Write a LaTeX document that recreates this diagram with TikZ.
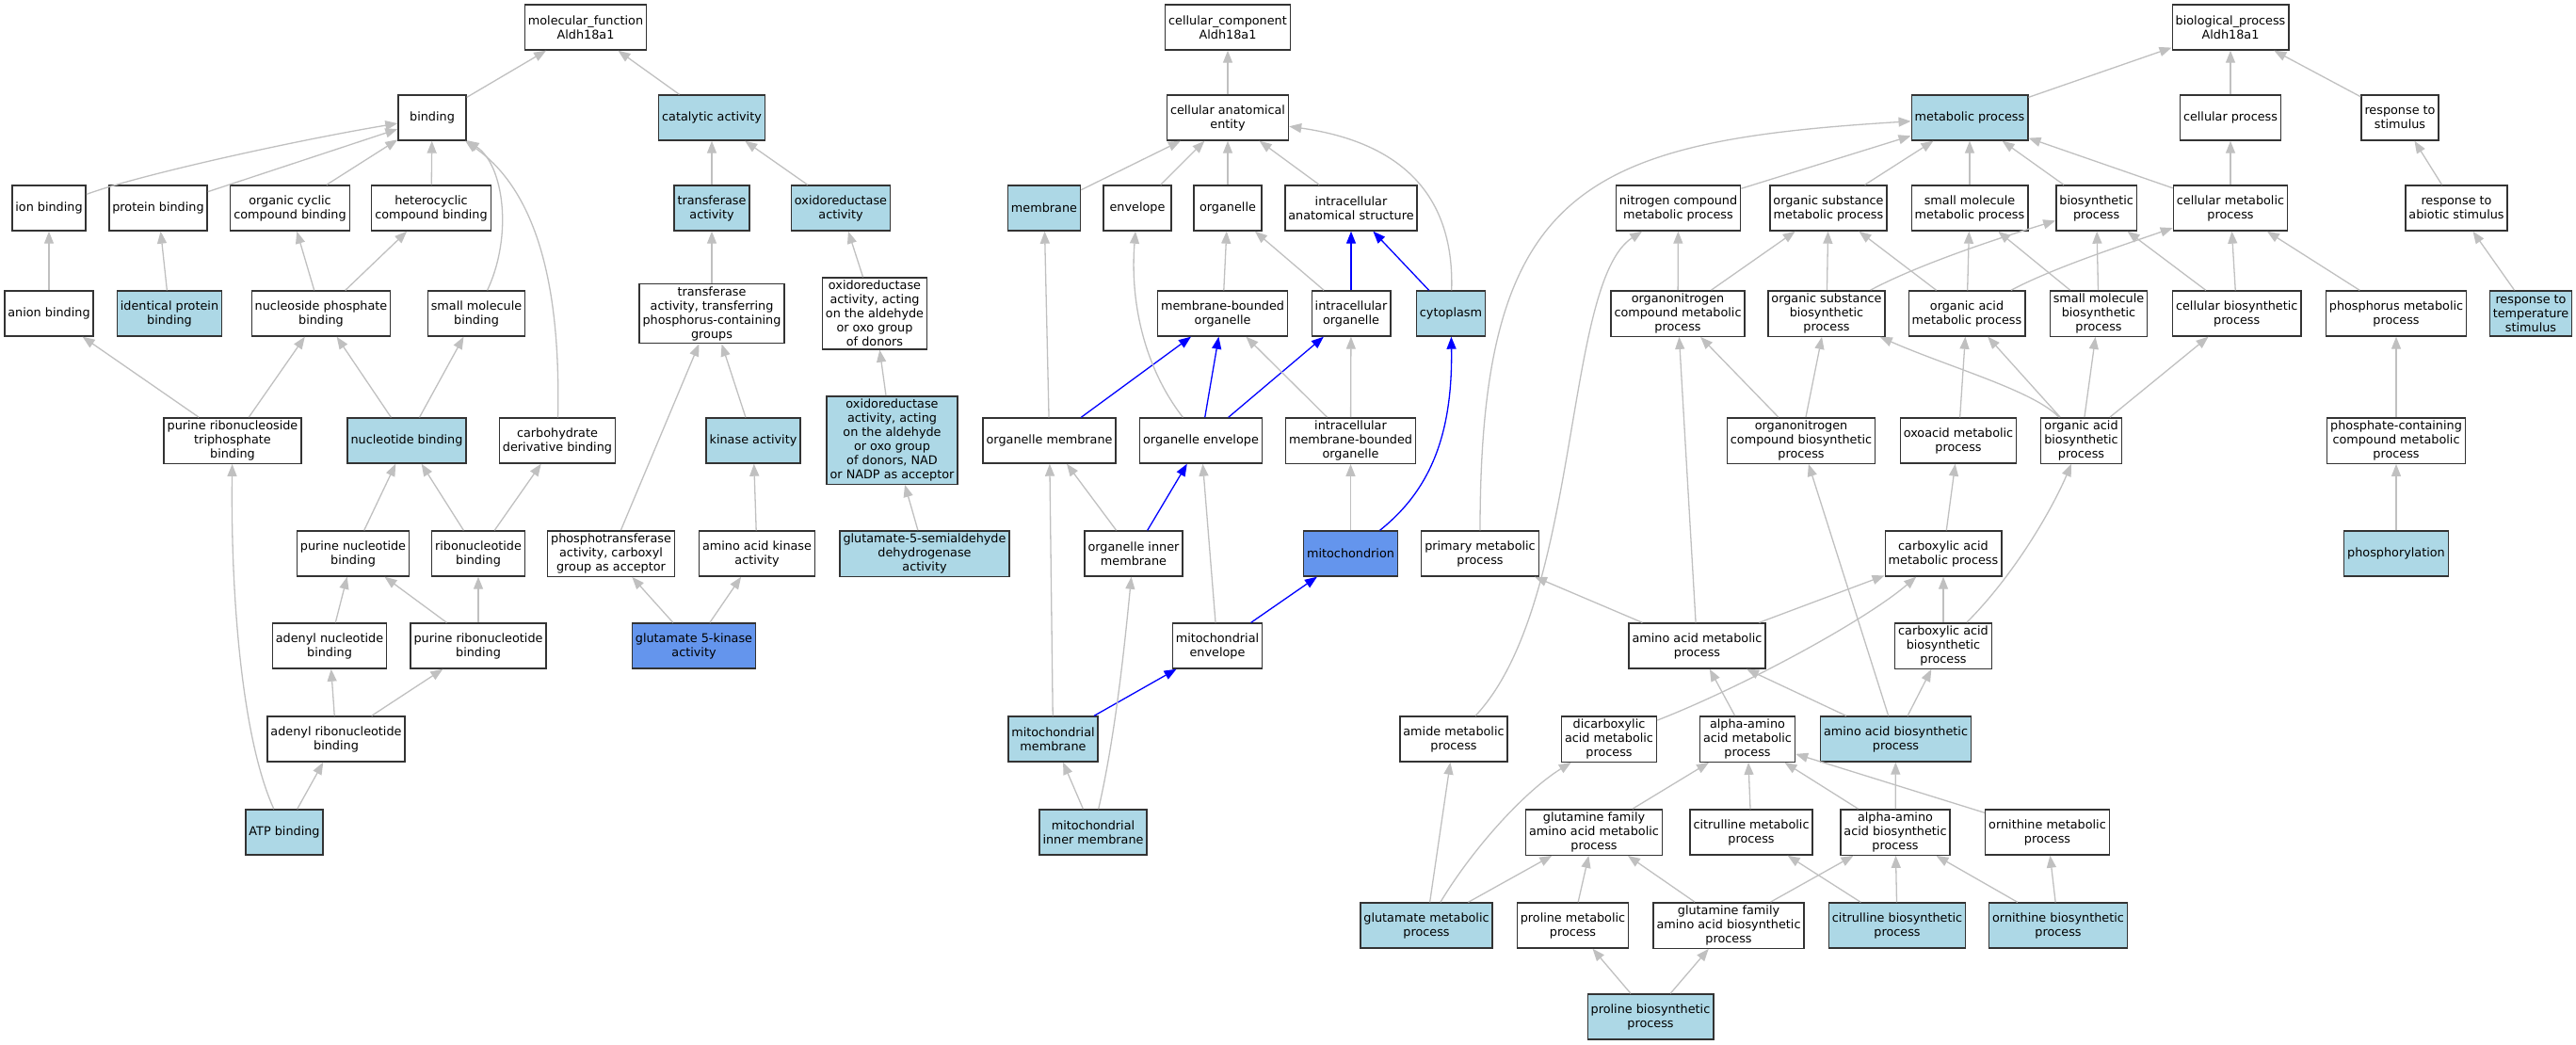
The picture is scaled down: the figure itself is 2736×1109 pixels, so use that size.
\documentclass[tikz,border=0pt]{standalone}
\usepackage{fontspec}
\setmainfont{DejaVu Sans}
\usepackage{tikz}
\usetikzlibrary{arrows.meta}
\definecolor{lightblue}{HTML}{ADD8E6}
\definecolor{cornflower}{HTML}{6495ED}
\definecolor{edgegray}{HTML}{C0C0C0}

\begin{document}
\begin{tikzpicture}[x=1pt, y=-1pt,
        go/.style={draw=black!80, line width=1.4pt, fill=white, align=center,
            font=\fontsize{12.8}{15}\selectfont, inner xsep=3.5pt, inner ysep=3pt,
            minimum width=72pt, minimum height=48pt},
        hit/.style={go, fill=lightblue},
        gene/.style={go, fill=cornflower},
        isa/.style={draw=edgegray, line width=1.3pt, -{Triangle[length=13pt,width=10pt]}},
        partof/.style={draw=blue, line width=1.3pt, -{Triangle[length=13pt,width=10pt]}}]
        \useasboundingbox (0,0) rectangle (2736,1109);

        \node[go] (mf) at (622,29) {molecular\_function\\Aldh18a1};
        \node[go] (bind) at (459,125) {binding};
        \node[hit] (catal) at (756,125) {catalytic activity};
        \node[go] (ionb) at (52,221) {ion binding};
        \node[go] (protb) at (168,221) {protein binding};
        \node[go] (orgcyc) at (308,221) {organic cyclic\\compound binding};
        \node[go] (hetcyc) at (458,221) {heterocyclic\\compound binding};
        \node[hit] (transf) at (756,221) {transferase\\activity};
        \node[hit] (oxred) at (893,221) {oxidoreductase\\activity};
        \node[go] (anionb) at (52,333) {anion binding};
        \node[hit] (identb) at (180,333) {identical protein\\binding};
        \node[go] (nucphos) at (341,333) {nucleoside phosphate\\binding};
        \node[go] (smallmolb) at (506,333) {small molecule\\binding};
        \node[go] (transphos) at (756,333) {transferase\\activity, transferring\\phosphorus-containing\\groups};
        \node[go] (oxald) at (929,333) {oxidoreductase\\activity, acting\\on the aldehyde\\or oxo group\\of donors};
        \node[go] (purtri) at (247,468) {purine ribonucleoside\\triphosphate\\binding};
        \node[hit] (nucb) at (432,468) {nucleotide binding};
        \node[go] (carbder) at (592,468) {carbohydrate\\derivative binding};
        \node[hit] (kinase) at (800,468) {kinase activity};
        \node[hit] (oxnad) at (947.5,467.5) {oxidoreductase\\activity, acting\\on the aldehyde\\or oxo group\\of donors, NAD\\or NADP as acceptor};
        \node[go] (purnuc) at (375,588) {purine nucleotide\\binding};
        \node[go] (ribonuc) at (508,588) {ribonucleotide\\binding};
        \node[go] (phoscarb) at (649,588) {phosphotransferase\\activity, carboxyl\\group as acceptor};
        \node[go] (aakin) at (804,588) {amino acid kinase\\activity};
        \node[hit] (g5sd) at (982,588) {glutamate-5-semialdehyde\\dehydrogenase\\activity};
        \node[go] (adenuc) at (350,686) {adenyl nucleotide\\binding};
        \node[go] (purribo) at (508,686) {purine ribonucleotide\\binding};
        \node[gene] (g5k) at (737,686) {glutamate 5-kinase\\activity};
        \node[go] (adenribo) at (357,785) {adenyl ribonucleotide\\binding};
        \node[hit] (atpb) at (302,884) {ATP binding};

        \node[go] (cc) at (1304,29) {cellular\_component\\Aldh18a1};
        \node[go] (cae) at (1304,125) {cellular anatomical\\entity};
        \node[hit] (membr) at (1109,221) {membrane};
        \node[go] (envel) at (1208,221) {envelope};
        \node[go] (organ) at (1304,221) {organelle};
        \node[go] (intras) at (1435,221) {intracellular\\anatomical structure};
        \node[go] (mbo) at (1298.6,333) {membrane-bounded\\organelle};
        \node[go] (intorg) at (1435,333) {intracellular\\organelle};
        \node[hit] (cyto) at (1541,333) {cytoplasm};
        \node[go] (orgmem) at (1114.6,468) {organelle membrane};
        \node[go] (orgenv) at (1275.5,468) {organelle envelope};
        \node[go] (imbo) at (1434.5,468) {intracellular\\membrane-bounded\\organelle};
        \node[go] (orginner) at (1204,588) {organelle inner\\membrane};
        \node[gene] (mito) at (1434.5,588) {mitochondrion};
        \node[go] (mitoenv) at (1293,686) {mitochondrial\\envelope};
        \node[hit] (mitomem) at (1118.5,785) {mitochondrial\\membrane};
        \node[hit] (mitoinner) at (1161,884) {mitochondrial\\inner membrane};

        \node[go] (bp) at (2369,29) {biological\_process\\Aldh18a1};
        \node[hit] (metab) at (2092,125) {metabolic process};
        \node[go] (cellp) at (2369,125) {cellular process};
        \node[go] (respst) at (2549,125) {response to\\stimulus};
        \node[go] (nitro) at (1782.5,221) {nitrogen compound\\metabolic process};
        \node[go] (orgsub) at (1942,221) {organic substance\\metabolic process};
        \node[go] (smallmp) at (2092,221) {small molecule\\metabolic process};
        \node[go] (biosyn) at (2226.6,221) {biosynthetic\\process};
        \node[go] (cellmet) at (2369,221) {cellular metabolic\\process};
        \node[go] (respab) at (2609,221) {response to\\abiotic stimulus};
        \node[go] (orgnitro) at (1782,333) {organonitrogen\\compound metabolic\\process};
        \node[go] (orgsubbio) at (1940,333) {organic substance\\biosynthetic\\process};
        \node[go] (orgacid) at (2089,333) {organic acid\\metabolic process};
        \node[go] (smallbio) at (2229,333) {small molecule\\biosynthetic\\process};
        \node[go] (cellbio) at (2375.7,333) {cellular biosynthetic\\process};
        \node[go] (phosmet) at (2545,333) {phosphorus metabolic\\process};
        \node[hit] (resptemp) at (2688,333) {response to\\temperature\\stimulus};
        \node[go] (orgnitrobio) at (1913,468) {organonitrogen\\compound biosynthetic\\process};
        \node[go] (oxoacid) at (2080,468) {oxoacid metabolic\\process};
        \node[go] (orgacidbio) at (2210.5,468) {organic acid\\biosynthetic\\process};
        \node[go] (phoscont) at (2545,468) {phosphate-containing\\compound metabolic\\process};
        \node[go] (primary) at (1572,588) {primary metabolic\\process};
        \node[go] (carbox) at (2064,588) {carboxylic acid\\metabolic process};
        \node[hit] (phosph) at (2545,588) {phosphorylation};
        \node[go] (aamet) at (1802.5,686) {amino acid metabolic\\process};
        \node[go] (carboxbio) at (2064,686) {carboxylic acid\\biosynthetic\\process};
        \node[go] (amide) at (1544,785) {amide metabolic\\process};
        \node[go] (dicarb) at (1709,785) {dicarboxylic\\acid metabolic\\process};
        \node[go] (alphamet) at (1856,785) {alpha-amino\\acid metabolic\\process};
        \node[hit] (aabio) at (2013.5,785) {amino acid biosynthetic\\process};
        \node[go] (glnmet) at (1693,884) {glutamine family\\amino acid metabolic\\process};
        \node[go] (citmet) at (1860,884) {citrulline metabolic\\process};
        \node[go] (alphabio) at (2013,884) {alpha-amino\\acid biosynthetic\\process};
        \node[go] (ornmet) at (2174.5,884) {ornithine metabolic\\process};
        \node[hit] (glumet) at (1515,983) {glutamate metabolic\\process};
        \node[go] (promet) at (1670.5,983) {proline metabolic\\process};
        \node[go] (glnbio) at (1836,983) {glutamine family\\amino acid biosynthetic\\process};
        \node[hit] (citbio) at (2015,983) {citrulline biosynthetic\\process};
        \node[hit] (ornbio) at (2186,983) {ornithine biosynthetic\\process};
        \node[hit] (probio) at (1753,1080) {proline biosynthetic\\process};

        \draw[isa] (bind) -- (mf);
        \draw[isa] (catal) -- (mf);
        \draw[isa] (ionb) .. controls (150,185) and (320,148) .. (bind);
        \draw[isa] (protb) -- (bind);
        \draw[isa] (orgcyc) -- (bind);
        \draw[isa] (hetcyc) -- (bind);
        \draw[isa] (smallmolb) .. controls (545,250) and (535,175) .. (bind);
        \draw[isa] (carbder) .. controls (595,330) and (580,210) .. (bind);
        \draw[isa] (anionb) -- (ionb);
        \draw[isa] (identb) -- (protb);
        \draw[isa] (nucphos) -- (orgcyc);
        \draw[isa] (nucphos) -- (hetcyc);
        \draw[isa] (purtri) -- (anionb);
        \draw[isa] (purtri) -- (nucphos);
        \draw[isa] (nucb) -- (nucphos);
        \draw[isa] (nucb) -- (smallmolb);
        \draw[isa] (purnuc) -- (nucb);
        \draw[isa] (ribonuc) -- (nucb);
        \draw[isa] (ribonuc) -- (carbder);
        \draw[isa] (adenuc) -- (purnuc);
        \draw[isa] (purribo) -- (purnuc);
        \draw[isa] (purribo) -- (ribonuc);
        \draw[isa] (adenribo) -- (adenuc);
        \draw[isa] (adenribo) -- (purribo);
        \draw[isa] (atpb) .. controls (255,780) and (245,620) .. (purtri);
        \draw[isa] (atpb) -- (adenribo);
        \draw[isa] (transf) -- (catal);
        \draw[isa] (oxred) -- (catal);
        \draw[isa] (transphos) -- (transf);
        \draw[isa] (oxald) -- (oxred);
        \draw[isa] (oxnad) -- (oxald);
        \draw[isa] (kinase) -- (transphos);
        \draw[isa] (phoscarb) -- (transphos);
        \draw[isa] (g5sd) -- (oxnad);
        \draw[isa] (aakin) -- (kinase);
        \draw[isa] (g5k) -- (phoscarb);
        \draw[isa] (g5k) -- (aakin);

        \draw[isa] (cae) -- (cc);
        \draw[isa] (membr) -- (cae);
        \draw[isa] (envel) -- (cae);
        \draw[isa] (organ) -- (cae);
        \draw[isa] (intras) -- (cae);
        \draw[isa] (cyto) .. controls (1545,200) and (1480,150) .. (cae);
        \draw[isa] (mbo) -- (organ);
        \draw[isa] (intorg) -- (organ);
        \draw[partof] (intorg) -- (intras);
        \draw[partof] (cyto) -- (intras);
        \draw[isa] (orgmem) -- (membr);
        \draw[partof] (orgmem) -- (mbo);
        \draw[isa] (orgenv) .. controls (1215,390) and (1200,320) .. (envel);
        \draw[partof] (orgenv) -- (mbo);
        \draw[partof] (orgenv) -- (intorg);
        \draw[isa] (imbo) -- (mbo);
        \draw[isa] (imbo) -- (intorg);
        \draw[isa] (orginner) -- (orgmem);
        \draw[partof] (orginner) -- (orgenv);
        \draw[isa] (mito) -- (imbo);
        \draw[partof] (mito) .. controls (1520,520) and (1543,460) .. (cyto);
        \draw[isa] (mitoenv) -- (orgenv);
        \draw[partof] (mitoenv) -- (mito);
        \draw[isa] (mitomem) -- (orgmem);
        \draw[partof] (mitomem) -- (mitoenv);
        \draw[isa] (mitoinner) -- (mitomem);
        \draw[isa] (mitoinner) .. controls (1185,780) and (1195,680) .. (orginner);

        \draw[isa] (metab) -- (bp);
        \draw[isa] (cellp) -- (bp);
        \draw[isa] (respst) -- (bp);
        \draw[isa] (nitro) -- (metab);
        \draw[isa] (orgsub) -- (metab);
        \draw[isa] (smallmp) -- (metab);
        \draw[isa] (biosyn) -- (metab);
        \draw[isa] (cellmet) -- (metab);
        \draw[isa] (cellmet) -- (cellp);
        \draw[isa] (primary) .. controls (1572,200) and (1680,150) .. (metab);
        \draw[isa] (respab) -- (respst);
        \draw[isa] (resptemp) -- (respab);
        \draw[isa] (orgnitro) -- (nitro);
        \draw[isa] (orgnitro) -- (orgsub);
        \draw[isa] (orgsubbio) -- (orgsub);
        \draw[isa] (orgsubbio) .. controls (2030,285) and (2100,260) .. (biosyn);
        \draw[isa] (orgacid) -- (orgsub);
        \draw[isa] (orgacid) -- (smallmp);
        \draw[isa] (orgacid) .. controls (2180,285) and (2250,262) .. (cellmet);
        \draw[isa] (smallbio) -- (smallmp);
        \draw[isa] (smallbio) -- (biosyn);
        \draw[isa] (cellbio) -- (biosyn);
        \draw[isa] (cellbio) -- (cellmet);
        \draw[isa] (phosmet) -- (cellmet);
        \draw[isa] (phoscont) -- (phosmet);
        \draw[isa] (phosph) -- (phoscont);
        \draw[isa] (orgnitrobio) -- (orgnitro);
        \draw[isa] (orgnitrobio) -- (orgsubbio);
        \draw[isa] (oxoacid) -- (orgacid);
        \draw[isa] (orgacidbio) -- (smallbio);
        \draw[isa] (orgacidbio) -- (cellbio);
        \draw[isa] (orgacidbio) -- (orgacid);
        \draw[isa] (orgacidbio) .. controls (2160,415) and (2070,390) .. (orgsubbio);
        \draw[isa] (carbox) -- (oxoacid);
        \draw[isa] (carboxbio) -- (carbox);
        \draw[isa] (carboxbio) .. controls (2140,610) and (2180,540) .. (orgacidbio);
        \draw[isa] (aamet) -- (primary);
        \draw[isa] (aamet) -- (orgnitro);
        \draw[isa] (aamet) -- (carbox);
        \draw[isa] (dicarb) .. controls (1850,730) and (1980,660) .. (carbox);
        \draw[isa] (alphamet) -- (aamet);
        \draw[isa] (aabio) -- (aamet);
        \draw[isa] (aabio) -- (orgnitrobio);
        \draw[isa] (aabio) -- (carboxbio);
        \draw[isa] (amide) .. controls (1680,640) and (1660,300) .. (nitro);
        \draw[isa] (glnmet) -- (alphamet);
        \draw[isa] (citmet) -- (alphamet);
        \draw[isa] (alphabio) -- (alphamet);
        \draw[isa] (alphabio) -- (aabio);
        \draw[isa] (ornmet) -- (alphamet);
        \draw[isa] (glumet) -- (amide);
        \draw[isa] (glumet) .. controls (1565,900) and (1620,840) .. (dicarb);
        \draw[isa] (glumet) -- (glnmet);
        \draw[isa] (promet) -- (glnmet);
        \draw[isa] (glnbio) -- (glnmet);
        \draw[isa] (glnbio) -- (alphabio);
        \draw[isa] (citbio) -- (citmet);
        \draw[isa] (citbio) -- (alphabio);
        \draw[isa] (ornbio) -- (alphabio);
        \draw[isa] (ornbio) -- (ornmet);
        \draw[isa] (probio) -- (promet);
        \draw[isa] (probio) -- (glnbio);
    \end{tikzpicture}
\end{document}
